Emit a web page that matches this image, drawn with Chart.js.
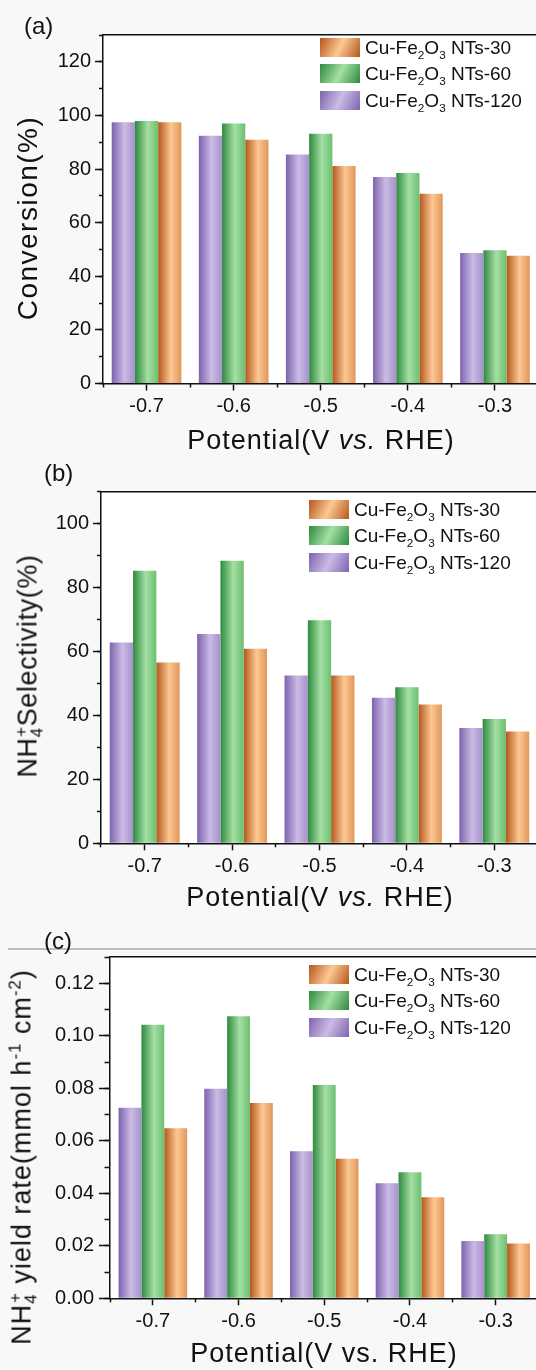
<!DOCTYPE html>
<html lang="en">
<head>
<meta charset="utf-8">
<title>Cu-Fe2O3 NTs: conversion, selectivity and NH4+ yield</title>
<script src="https://cdn.jsdelivr.net/npm/chart.js@4.4.1/dist/chart.umd.min.js"></script>
<style>
  html, body { margin: 0; padding: 0; }
  body {
    position: relative; width: 536px; height: 1370px; overflow: hidden;
    background: #f8f8f8; color: #111;
    font-family: 'Liberation Sans', Arial, sans-serif;
  }
  canvas { position: absolute; left: 0; }
  .txt { position: absolute; white-space: nowrap; line-height: 1; z-index: 2; }
  .ytitle { transform: translate(-50%, -50%) rotate(-90deg); }
  .xtitle { transform: translate(-50%, -50%); }
  .tag { font-size: 24px; }
  sub, sup { font-size: 0.62em; line-height: 0; }
  .stack { margin-left: -0.556em; }
  .legend { position: absolute; z-index: 2; font-size: 19px; line-height: 1; }
  .legend div { display: flex; align-items: center; height: 26.5px; white-space: nowrap; }
  .legend .sw { width: 40px; height: 19px; margin-right: 5px; flex: none; }
  .rule { position: absolute; left: 8px; right: 0; top: 948px; height: 2px; background: #bcbcbc; z-index: 1; }
</style>
</head>
<body>

<canvas id="convChart" width="545" height="425" style="top:0px"></canvas>
<canvas id="selChart" width="545" height="445" style="top:440px"></canvas>
<canvas id="yieldChart" width="545" height="400" style="top:940px"></canvas>

<div class="txt tag" style="left:24px; top:14px">(a)</div>
<div class="txt ytitle" style="left:28px; top:218px; font-size:28px; letter-spacing:1.5px">Conversion(%)</div>
<div class="txt xtitle" style="left:321px; top:440px; font-size:27px; letter-spacing:1px">Potential(V <i>vs.</i> RHE)</div>
<div class="legend" id="convLegend" style="left:320px; top:34px"></div>

<div class="txt tag" style="left:44px; top:461px">(b)</div>
<div class="txt ytitle" style="left:28px; top:666px; font-size:27px; letter-spacing:0.6px">NH<sub>4</sub><sup class="stack">+</sup>Selectivity(%)</div>
<div class="txt xtitle" style="left:320px; top:897px; font-size:27px; letter-spacing:1px">Potential(V <i>vs.</i> RHE)</div>
<div class="legend" id="selLegend" style="left:309px; top:496px"></div>

<div class="rule"></div>
<div class="txt tag" style="left:44px; top:929px">(c)</div>
<div class="txt ytitle" style="left:22px; top:1157px; font-size:27px; letter-spacing:1px">NH<sub>4</sub><sup class="stack">+</sup> yield rate(mmol h<sup>-1</sup> cm<sup>-2</sup>)</div>
<div class="txt xtitle" style="left:324px; top:1353px; font-size:27px; letter-spacing:1px">Potential(V vs. RHE)</div>
<div class="legend" id="yieldLegend" style="left:309px; top:961px"></div>

<script>
const potentials = ['-0.7', '-0.6', '-0.5', '-0.4', '-0.3'];
const sampleNames = ['NTs-120', 'NTs-60', 'NTs-30'];

// nitrate conversion (%)
const conversion120 = [97.5, 92.4, 85.4, 77.0, 48.7];
const conversion60 = [97.9, 97.0, 93.2, 78.5, 49.7];
const conversion30 = [97.5, 90.9, 81.1, 70.8, 47.7];

// NH4+ selectivity (%)
const selectivity120 = [62.8, 65.5, 52.5, 45.5, 36.1];
const selectivity60 = [85.3, 88.4, 69.8, 48.8, 38.9];
const selectivity30 = [56.6, 60.9, 52.5, 43.4, 35.0];

// NH4+ yield rate (mmol h-1 cm-2)
const yield120 = [0.0726, 0.0798, 0.0560, 0.0438, 0.0218];
const yield60 = [0.1042, 0.1074, 0.0812, 0.0480, 0.0244];
const yield30 = [0.0648, 0.0744, 0.0532, 0.0385, 0.0209];

// y axis: max, major step, minor step
const convAxis = [130, 20, 10];
const selAxis = [110, 20, 10];
const yieldAxis = [0.13, 0.02, 0.01];

// dark edge / light face / right edge of each sample's bars
const palette = [
  ['#7e63ae', '#cbbbe5', '#a691cc'],
  ['#2e8a3d', '#a5dfa4', '#6cbf70'],
  ['#b4571b', '#fdc893', '#e0975a']
];

const FONT = "'Liberation Sans', Arial, sans-serif";
const INK = '#111';

// horizontal shading across each bar, worked out from the category scale
function barFill(cols) {
  return c => {
    const chart = c.chart;
    const xs = chart.scales.x;
    if (c.type !== 'data' || !chart.chartArea || !xs) return cols[1];
    const n = chart.data.datasets.length;
    const groupW = xs.width / chart.data.labels.length * 0.8;
    const barW = groupW / n;
    const left = xs.getPixelForValue(c.dataIndex) - groupW / 2 + c.datasetIndex * barW;
    const g = chart.ctx.createLinearGradient(left, 0, left + barW, 0);
    g.addColorStop(0, cols[0]);
    g.addColorStop(0.55, cols[1]);
    g.addColorStop(1, cols[2]);
    return g;
  };
}

const plotBg = {
  id: 'plotBg',
  beforeDraw(chart) {
    const { ctx, chartArea: a } = chart;
    ctx.save();
    ctx.fillStyle = '#ffffff';
    ctx.fillRect(a.left, a.top, a.right - a.left, a.bottom - a.top);
    ctx.restore();
  }
};

// keep only whole multiples of the step (drops the tick chart.js adds at max)
function onStep(step) {
  return s => {
    s.ticks = s.ticks.filter(t => Math.abs(t.value / step - Math.round(t.value / step)) < 1e-6);
  };
}

function makeChart(id, series, axis, lay) {
  const [yMax, step, minor] = axis;
  return new Chart(document.getElementById(id), {
    type: 'bar',
    data: {
      labels: potentials,
      datasets: series.map((vals, i) => ({
        label: 'Cu-Fe2O3 ' + sampleNames[i],
        data: vals,
        backgroundColor: barFill(palette[i]),
        borderWidth: 0,
        categoryPercentage: 0.8,
        barPercentage: 1.0
      }))
    },
    options: {
      responsive: false,
      animation: false,
      layout: { padding: { top: lay.top, right: lay.right, left: 0, bottom: 0 } },
      plugins: { legend: { display: false }, tooltip: { enabled: false } },
      scales: {
        x: {
          type: 'category', position: 'bottom', weight: 1, offset: true,
          grid: { offset: false, drawOnChartArea: false, tickLength: 7, tickWidth: 1.5, tickColor: INK },
          border: { color: INK, width: 1.5 },
          ticks: { color: INK, font: { family: FONT, size: 20 }, padding: 4, maxRotation: 0, autoSkip: false },
          afterFit: s => { s.height = lay.xh; }
        },
        xMinor: {
          type: 'category', position: 'bottom', weight: 0, offset: true,
          grid: { offset: true, drawOnChartArea: false, tickLength: 4, tickWidth: 1.5, tickColor: INK },
          border: { display: false },
          ticks: { display: false },
          afterFit: s => { s.height = 0; }
        },
        xTop: {
          type: 'category', position: 'top', offset: true,
          grid: { display: false },
          border: { color: INK, width: 1.5 },
          ticks: { display: false },
          afterFit: s => { s.height = 0; }
        },
        y: {
          type: 'linear', position: 'left', weight: 1, min: 0, max: yMax, bounds: 'data',
          grid: { drawOnChartArea: false, tickLength: lay.tick, tickWidth: 1.5, tickColor: INK },
          border: { color: INK, width: 1.5 },
          ticks: {
            stepSize: step, padding: lay.pad, color: INK,
            font: { family: FONT, size: 20 },
            callback: v => v.toFixed(lay.dec)
          },
          afterBuildTicks: onStep(step),
          afterFit: s => { s.width = lay.yw; }
        },
        yMinor: {
          type: 'linear', position: 'left', weight: 0, min: 0, max: yMax, bounds: 'data',
          grid: { drawOnChartArea: false, tickLength: lay.tick / 2, tickWidth: 1.5, tickColor: INK },
          border: { display: false },
          ticks: { display: false, stepSize: minor },
          afterFit: s => { s.width = 0; }
        }
      }
    },
    plugins: [plotBg]
  });
}

function fillLegend(id) {
  const box = document.getElementById(id);
  [2, 1, 0].forEach(i => {
    const [dark, light] = palette[i];
    const row = document.createElement('div');
    row.innerHTML = `<span class="sw" style="background:linear-gradient(115deg, ${dark} 0%, ${light} 50%, ${dark} 100%)"></span>` +
      `<span>Cu-Fe<sub>2</sub>O<sub>3</sub> ${sampleNames[i]}</span>`;
    box.appendChild(row);
  });
}

makeChart('convChart', [conversion120, conversion60, conversion30], convAxis,
  { top: 35, right: 6.5, xh: 41.5, yw: 103, tick: 8, pad: 4, dec: 0 });
makeChart('selChart', [selectivity120, selectivity60, selectivity30], selAxis,
  { top: 51.7, right: 7, xh: 41.7, yw: 101, tick: 8, pad: 4, dec: 0 });
makeChart('yieldChart', [yield120, yield60, yield30], yieldAxis,
  { top: 13, right: 6.5, xh: 41.7, yw: 110, tick: 11, pad: 5, dec: 2 });

fillLegend('convLegend');
fillLegend('selLegend');
fillLegend('yieldLegend');
</script>
</body>
</html>
